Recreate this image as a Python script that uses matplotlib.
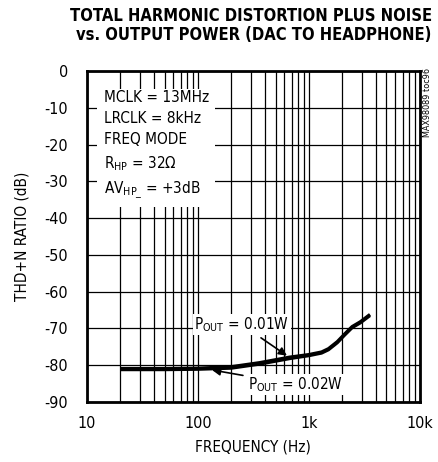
import numpy as np
import matplotlib.pyplot as plt
from matplotlib.ticker import FixedLocator, NullFormatter

plt.rcParams['font.family'] = ['DejaVu Sans']
plt.rcParams['font.stretch'] = 'condensed'
plt.rcParams['axes.unicode_minus'] = False
plt.rcParams['mathtext.fontset'] = 'custom'
plt.rcParams['mathtext.rm'] = 'DejaVu Sans'
plt.rcParams['mathtext.it'] = 'DejaVu Sans'

# ---------------------------------------------------------------
# Data
# ---------------------------------------------------------------
freq_01 = [20, 50, 100, 200, 360, 670, 1000, 1300, 1500, 1800, 2100, 2450, 2900, 3550]
thd_01  = [-80.9, -80.9, -80.8, -80.4, -79.3, -77.8, -77.1, -76.4, -75.5, -73.6, -71.5, -69.5, -68.2, -66.2]

freq_02 = [20, 50, 100, 200, 360, 670, 1000, 1300, 1500, 1800, 2100, 2450, 2900, 3550]
thd_02  = [-81.2, -81.2, -81.1, -80.8, -79.7, -78.2, -77.4, -76.7, -75.8, -73.9, -71.8, -69.8, -68.5, -66.5]

yticks = [0, -10, -20, -30, -40, -50, -60, -70, -80, -90]
xticks = [10, 100, 1000, 10000]
xlabels = ['10', '100', '1k', '10k']

# ---------------------------------------------------------------
fig = plt.figure(figsize=(4.38, 4.62), dpi=100)
ax = fig.add_axes([0.1986, 0.1299, 0.760, 0.7164])

ax.plot(freq_01, thd_01, color='k', lw=2.3, solid_capstyle='butt', zorder=4)
ax.plot(freq_02, thd_02, color='k', lw=2.3, solid_capstyle='butt', zorder=4)

ax.set_xscale('log')
ax.set_xlim(10, 10000)
ax.set_ylim(-90, 0)
ax.set_xticks(xticks)
ax.set_xticklabels(xlabels)
minor = [m * d for d in (10, 100, 1000) for m in range(2, 10)]
ax.xaxis.set_minor_locator(FixedLocator(minor))
ax.xaxis.set_minor_formatter(NullFormatter())
ax.set_yticks(yticks)
ax.tick_params(which='both', length=0, labelsize=11.5)
ax.tick_params(axis='x', pad=10)
ax.tick_params(axis='y', pad=13.5)

ax.grid(True, which='both', axis='x', color='k', lw=0.9)
ax.grid(True, which='major', axis='y', color='k', lw=0.9)
for s in ax.spines.values():
    s.set_linewidth(2)

ax.set_xlabel('FREQUENCY (Hz)', fontsize=11, labelpad=6)
ax.set_ylabel('THD+N RATIO (dB)', fontsize=11)
ax.yaxis.set_label_coords(-0.174, 0.5)

fig.text(0.986, 0.985, 'TOTAL HARMONIC DISTORTION PLUS NOISE\nvs. OUTPUT POWER (DAC TO HEADPHONE)',
         ha='right', va='top', fontsize=11.9, fontweight='bold', linespacing=1.1,
         multialignment='right')

fig.text(0.975, 0.852, 'MAX98089 toc96', rotation=90, ha='center', va='top', fontsize=6.5)

# condition box
cond = ['MCLK = 13MHz', 'LRCLK = 8kHz', 'FREQ MODE',
        r'R$_{\rm HP}$ = 32$\Omega$', r'AV$_{\rm HP\_}$ = +3dB']
ax.text(0.05, 0.942, '\n'.join(cond), transform=ax.transAxes, ha='left', va='top',
        fontsize=11, linespacing=1.5, zorder=5,
        bbox=dict(facecolor='white', edgecolor='none', pad=4.5))

ax.annotate(r'P$_{\rm OUT}$ = 0.01W', xy=(634, -77.4), xytext=(249, -69.0),
            fontsize=11, ha='center', va='center', zorder=6,
            bbox=dict(facecolor='white', edgecolor='none', pad=1),
            arrowprops=dict(arrowstyle='-|>', color='k', lw=1.2, mutation_scale=12,
                            shrinkA=3, shrinkB=0))
ax.annotate(r'P$_{\rm OUT}$ = 0.02W', xy=(134, -81.3), xytext=(764, -85.3),
            fontsize=11, ha='center', va='center', zorder=6,
            bbox=dict(facecolor='white', edgecolor='none', pad=1),
            arrowprops=dict(arrowstyle='-|>', color='k', lw=1.2, mutation_scale=12,
                            shrinkA=3, shrinkB=0))

plt.savefig('out.png', dpi=100)
